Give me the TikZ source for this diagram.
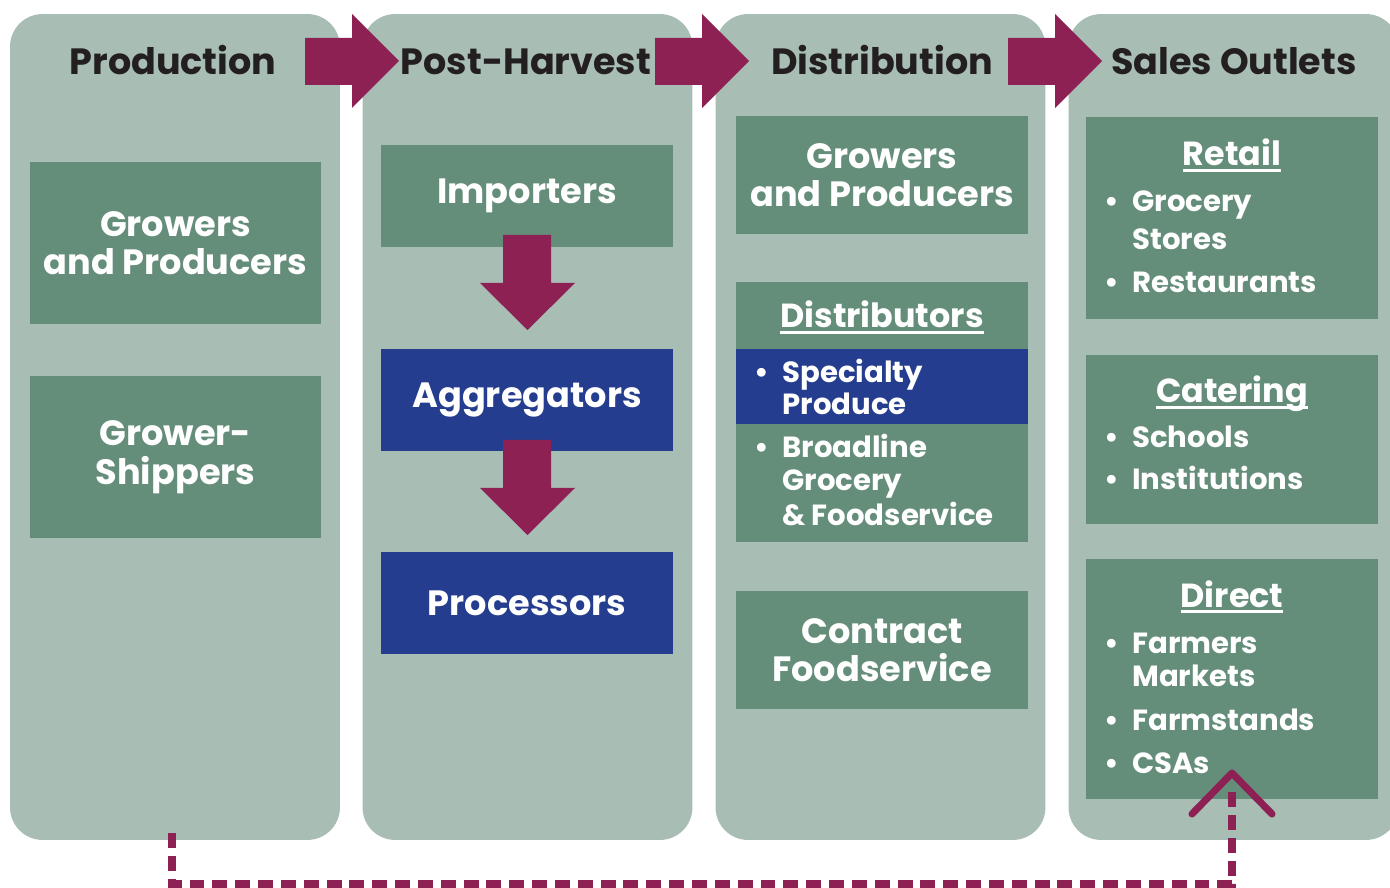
\documentclass[tikz,border=0pt]{standalone}
\usepackage{fontspec}
\setmainfont{Poppins}
\usetikzlibrary{calc}
\definecolor{colbg}{HTML}{A8BEB4}
\definecolor{boxgreen}{HTML}{658E7A}
\definecolor{boxblue}{HTML}{253D8E}
\definecolor{plum}{HTML}{8E2153}
\definecolor{ink}{HTML}{231F20}
\tikzset{
    column/.style = {fill=colbg, rounded corners=0.65cm,
        minimum width=6.6cm,
        minimum height=16.52cm, inner sep=0},
    block/.style = {fill=boxgreen, text=white, minimum width=5.84cm,
        inner sep=0, align=center, font=\bfseries\fontsize{20}{22}\selectfont},
    blueblock/.style = {block, fill=boxblue},
    head/.style = {text=ink, anchor=base, inner sep=0, font=\bfseries\fontsize{20.8}{24}\selectfont},
    title/.style = {text=white, anchor=base, inner sep=0, font=\bfseries\fontsize{19}{22}\selectfont},
    item/.style = {text=white, anchor=base west, inner sep=0, font=\bfseries\fontsize{16.6}{20}\selectfont},
    bigarrow/.style = {fill=plum},
    dashline/.style = {draw=plum, line width=4.5pt, dash pattern=on 8.5pt off 4.5pt},
    chevron/.style = {draw=plum, line width=4pt, line cap=round, line join=round}
}
\newcommand{\ulin}[1]{\setbox0\hbox{#1}\rlap{\rule[-3.4pt]{\wd0}{1.7pt}}\box0}
\newcommand{\bul}{\llap{\textbullet\hspace{7.5pt}}}
\begin{document}
\begin{tikzpicture}[x=0.02cm, y=-0.02cm]
    \useasboundingbox (0,0) rectangle (1390,888);
    % columns
    \node[column] (prod) at (175,427) {};
    \node[column] (post) at (527.5,427) {};
    \node[column] (dist) at (880.5,427) {};
    \node[column] (sales) at (1233.5,427) {};
    \node[head] (hprod) at (173,75) {Production};
    \node[head] (hpost) at (526,75) {Post-Harvest};
    \node[head] (hdist) at (882,75) {Distribution};
    \node[head] (hsales) at (1234,75) {Sales Outlets};
    \foreach \x in {305,655,1008}
        \fill[bigarrow] (\x,38) -- (\x+47,38) -- (\x+47,14) -- (\x+94,61) -- (\x+47,108) -- (\x+47,85) -- (\x,85) -- cycle;
    % production
    \node[block, minimum height=3.24cm] (grow1) at (175.5,243) {Growers\\and Producers};
    \node[block, minimum height=3.24cm] (gship) at (175.5,457) {Grower-\\Shippers};
    % post-harvest
    \node[block, minimum height=2.04cm] (imp) at (527,196) {Importers};
    \node[blueblock, minimum height=2.06cm] (agg) at (527,400) {Aggregators};
    \node[blueblock, minimum height=2.04cm] (proc) at (527,603) {Processors};
    \foreach \y in {235,440}
        \fill[bigarrow] (503,\y) -- (551,\y) -- (551,\y+48) -- (575,\y+48) -- (527.5,\y+95) -- (480,\y+48) -- (503,\y+48) -- cycle;
    % distribution
    \node[block, minimum height=2.36cm] (grow2) at (882,175) {Growers\\and Producers};
    \node[block, minimum height=5.2cm] (distr) at (882,412) {};
    \node[blueblock, minimum height=1.5cm] (spec) at (882,386.5) {};
    \node[title] (tdistr) at (882,328) {\ulin{Distributors}};
    \foreach \t/\y [count=\i] in {\bul Specialty/383, Produce/415, \bul Broadline/458, Grocery/491, \& Foodservice/525}
        \node[item] (dis\i) at (782,\y) {\t};
    \node[block, minimum height=2.36cm] (cfood) at (882,650) {Contract\\Foodservice};
    % sales outlets
    \node[block, minimum height=4.04cm] (retail) at (1232,218) {};
    \node[title] (tretail) at (1232,166) {\ulin{Retail}};
    \foreach \t/\y [count=\i] in {\bul Grocery/212, Stores/250, \bul Restaurants/293}
        \node[item] (ret\i) at (1132,\y) {\t};
    \node[block, minimum height=3.38cm] (cater) at (1232,439.5) {};
    \node[title] (tcater) at (1232,403) {\ulin{Catering}};
    \foreach \t/\y [count=\i] in {\bul Schools/448, \bul Institutions/490}
        \node[item] (cat\i) at (1132,\y) {\t};
    \node[block, minimum height=4.8cm] (direct) at (1232,679) {};
    \node[title] (tdirect) at (1232,607) {\ulin{Direct}};
    \foreach \t/\y [count=\i] in {\bul Farmers/653, Markets/686, \bul Farmstands/730, \bul CSAs/773}
        \node[item] (dir\i) at (1132,\y) {\t};
    % direct link
    \coordinate (dstart) at (172,833);
    \coordinate (dend) at (1232,788);
    \coordinate (tip) at (1232,773);
    \draw[dashline] (dstart) -- ++(0,51) -| (dend);
    \draw[chevron] ($(tip)+(-40,41)$) -- (tip) -- ++(40,41);
\end{tikzpicture}
\end{document}
